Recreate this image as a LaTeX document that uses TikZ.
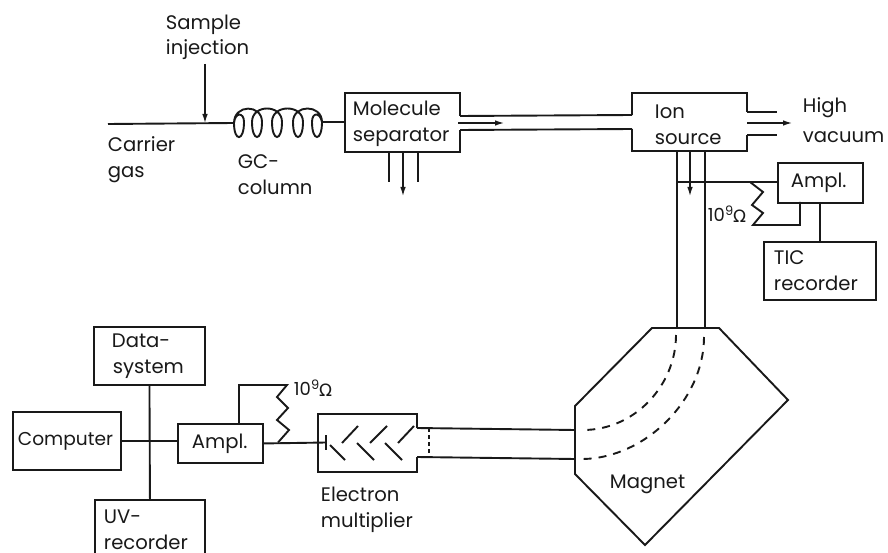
\documentclass[tikz,border=0pt]{standalone}
\usepackage{fontspec}
\setmainfont{Poppins}
\newfontfamily\omegafont{DejaVu Sans}
\usetikzlibrary{arrows.meta}
\newcommand{\lab}{\fontsize{19.6}{26}\selectfont}
\newcommand{\ohm}{\fontsize{18}{20}\selectfont 10\raisebox{6pt}{\fontsize{13}{14}\selectfont 9}\raisebox{-1pt}{\omegafont\fontsize{17}{17}\selectfont Ω}}
\tikzset{
 x=1pt,y=-1pt,
 every path/.style={line width=1.9pt,color=black!90},
 box/.style={draw,line width=1.9pt,text width=#1,inner sep=0pt,font=\lab,align=left,anchor=north west,text=black!90},
 lbl/.style={font=\lab,align=left,anchor=west,inner sep=0pt,text=black!90},
 tip/.style={-{Latex[length=10pt,width=5.5pt]}},
 dashline/.style={dash pattern=on 8pt off 7pt},
}
\begin{document}
\begin{tikzpicture}
\useasboundingbox (0,0) rectangle (888,553);
% --- upper line
\coordinate (cg) at (108,124);
\coordinate (inj) at (205,124);
\coordinate (injt) at (205,64);
\coordinate (c1) at (234,123);
\coordinate (c2) at (322,122);
\node[lbl] (tsample) at (165,37) {Sample\\[-1pt]injection};
\node[lbl] (tcarrier) at (107,160) {Carrier\\gas};
\node[lbl] (tgc) at (237,175) {GC-\\column};
\draw (cg) -- (c1);
\draw[tip] (injt) -- (inj);
% coil
\draw (c1) .. controls (234,142) and (244,142) .. (244,122) .. controls (244,112) and (235,112) .. (c1)
  .. controls (234,104) and (262,104) .. (262,122) .. controls (262,142) and (252,142) .. (252,122)
  .. controls (252,104) and (282,104) .. (282,122) .. controls (282,142) and (272,142) .. (272,122)
  .. controls (272,104) and (303,104) .. (303,122) .. controls (303,142) and (293,142) .. (293,122)
  .. controls (293,104) and (322,104) .. (c2) .. controls (322,142) and (312,142) .. (312,122)
  .. controls (312,112) and (320,112) .. (c2);
% molecule separator
\node[lbl] (tmol) at (352,124) {Molecule\\separator};
\coordinate (ms1) at (345,93);
\coordinate (ms2) at (460,93);
\coordinate (ms3) at (460,116);
\coordinate (ms4) at (460,130);
\coordinate (ms5) at (460,152);
\coordinate (ms6) at (345,152);
\coordinate (o1) at (389,152); \coordinate (o1e) at (389,182);
\coordinate (o2) at (418,152); \coordinate (o2e) at (418,182);
\coordinate (o3) at (403,152); \coordinate (o3e) at (403,197);
\draw (c2) -- (ms1 |- c2);
\draw (ms3) -- (ms2) -- (ms1) -- (ms6) -- (ms5) -- (ms4);
\draw (o1) -- (o1e); \draw (o2) -- (o2e);
\draw[tip] (o3) -- (o3e);
% ion source
\coordinate (is1) at (632,93);
\coordinate (is2) at (747,93);
\coordinate (is3) at (747,112);
\coordinate (is4) at (747,135);
\coordinate (is5) at (747,151);
\coordinate (is6) at (632,151);
\coordinate (is7) at (632,129);
\coordinate (is8) at (632,115);
\draw (is8) -- (is1) -- (is2) -- (is3);
\draw (is4) -- (is5) -- (is6) -- (is7);
\draw (ms3) -- (is8);
\draw (ms4) -- (is7);
\draw[tip] (458,123) -- (505,123);
\node[lbl] (tion) at (654,124.5) {Ion\\source};
\draw (is3) -- (777,112);
\draw (is4) -- (777,135);
\draw[tip] (747,123) -- (793,123);
\node[lbl] (thv) at (802,108) {High};
\node[lbl] (tvac) at (802,137) {vacuum};
% tube to magnet
\coordinate (t1a) at (677,151); \coordinate (t1b) at (677,328);
\coordinate (t2a) at (705,151); \coordinate (t2b) at (705,328);
\draw (t1a) -- (t1b); \draw (t2a) -- (t2b);
\coordinate (ia) at (690,151); \coordinate (ib) at (690,197);
\draw[tip] (ia) -- (ib);
% ampl upper
\node[box=85pt,minimum height=40pt] (ampu) at (777,162) {\hspace*{13pt}Ampl.};
\node[box=112pt,minimum height=58pt] (tic) at (763,241) {\hspace*{10pt}TIC\\\hspace*{10pt}recorder};
\coordinate (j1) at (677,182);
\coordinate (z1t) at (750,182);
\coordinate (z1b) at (753,225);
\coordinate (z1r) at (800,225);
\coordinate (z1u) at (800,202);
\draw (j1) -- (ampu.west |- j1);
\draw (z1t) -- (763,192) -- (752,205) -- (763,213) -- (z1b) -- (z1r) -- (z1u);
\draw (820,202) -- (820,241);
\node[lbl] (tr1) at (707,214) {\ohm};
% lower boxes
\node[box=111pt,minimum height=58pt] (data) at (93,326) {\hspace*{18pt}Data-\\\hspace*{19pt}system};
\node[box=108pt,minimum height=58pt] (comp) at (12,411) {\hspace*{5pt}\fontsize{18.6}{26}\selectfont Computer};
\node[box=85pt,minimum height=39pt] (ampl) at (177,423) {\hspace*{14pt}Ampl.};
\node[box=110pt,minimum height=60pt] (uv) at (94,499) {\hspace*{9pt}UV-\\\hspace*{9pt}recorder};
\draw (data.south) -- (uv.north);
\draw (comp.east) -- (comp.east -| ampl.west);
% electron multiplier
\coordinate (em1) at (318,414);
\coordinate (em2) at (417,414);
\coordinate (em3) at (417,428);
\coordinate (em4) at (417,457);
\coordinate (em5) at (417,472);
\coordinate (em6) at (318,472);
\draw (em3) -- (em2) -- (em1) -- (em6) -- (em5) -- (em4);
\coordinate (pl) at (326,442.5);
\draw (ampl.east) -- (pl);
\draw (326,435) -- (326,450);
\draw (342,443) -- (358,426); \draw (370,443) -- (387,426); \draw (398,443) -- (414,426);
\draw (330,445) -- (345,460); \draw (357,443) -- (374,460); \draw (385,443) -- (402,460);
\draw[dash pattern=on 4pt off 3pt] (429,428) -- (429,457);
\node[lbl] (tem) at (320,510) {Electron\\multiplier};
% feedback resistor lower
\coordinate (z2b) at (278,442.5);
\coordinate (z2t) at (287,385);
\coordinate (z2l) at (239,385);
\coordinate (z2d) at (239,423);
\draw (z2d) -- (z2l) -- (z2t) -- (277,397) -- (288,408) -- (277,420) -- (289,430) -- (z2b);
\node[lbl] (tr2) at (293,388) {\ohm};
% magnet
\coordinate (m1) at (652,328);
\coordinate (m2) at (719,328);
\coordinate (m3) at (788,400);
\coordinate (m4) at (645,545);
\coordinate (m5) at (575,474);
\coordinate (m6) at (575,406);
\draw (m1) -- (m2) -- (m3) -- (m4) -- (m5) -- (m6) -- cycle;
\coordinate (mi1) at (575,430);
\coordinate (mi2) at (575,459);
\coordinate (de1) at (583,430);
\coordinate (de2) at (583,459);
\coordinate (ds1) at (676,335);
\coordinate (ds2) at (704,337);
\draw (em3) -- (mi1);
\draw (em4) -- (mi2);
\draw[dashline] (ds1) .. controls (676,385) and (635,430) .. (de1);
\draw[dashline] (ds2) .. controls (704,400) and (645,458) .. (de2);
\node[lbl] (tmag) at (609,484) {Magnet};
\end{tikzpicture}
\end{document}
